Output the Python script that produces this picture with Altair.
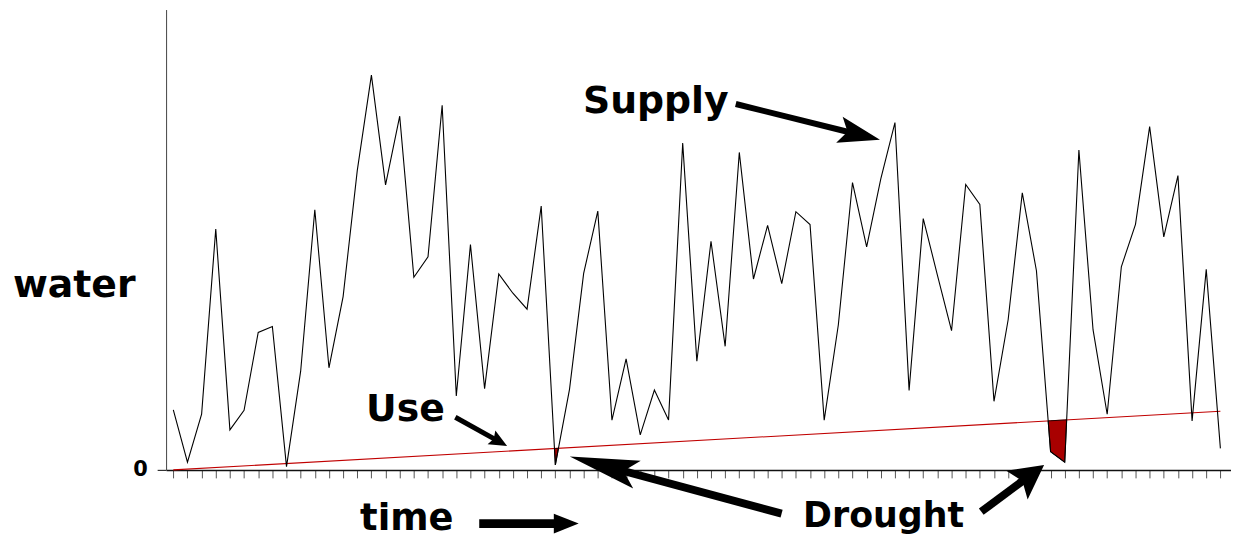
import altair as alt
import pandas as pd
import numpy as np

# ---------------- data ----------------
time_steps = list(range(75))
supply = [60.3, 7.7, 56, 242.3, 40.3, 60, 138.3, 144.3, 3.3, 99.3,
          261.7, 102.7, 174.3, 301, 397, 286.7, 355.7, 193.7, 214.3, 366.7,
          74.3, 226.7, 81.7, 197, 177.7, 161.7, 265.3, 5, 81, 197.7,
          260.3, 50, 111.7, 35.3, 80.3, 50.3, 328.7, 109.3, 230, 124.3,
          319.3, 192, 246, 187.3, 259.7, 246.7, 50, 146, 289, 224.3,
          292.7, 349.3, 80, 252.7, 196, 140, 287, 267, 69, 151,
          278.7, 200.3, 18.3, 7.7, 321.7, 141, 56, 204.3, 247, 345.3,
          234.3, 296, 49.3, 201.7, 21.7]
use_t = [0, 74]
use_v = [0, 59]
drought_steps = [[27], [62, 63]]

label_text = ["water", "Supply", "Use", "time", "Drought"]
label_t = [-7.0, 34.1, 16.4, 16.5, 50.2]
label_v = [174, 359, 49.3, -60.5, -57.3]
label_size = [38, 38, 38, 37, 35]

arrow_from_t = [39.75, 19.93, 21.62, 42.99, 57.1]
arrow_from_v = [368, 53, -54, -44, -42]
arrow_to_t = [49.94, 23.59, 28.65, 28.02, 61.54]
arrow_to_v = [332, 24, -54, 13.5, 5]
arrow_shaft = [6, 5, 9, 8, 8]
arrow_head_len = [42, 18, 25, 70, 34]
arrow_head_w = [27, 16, 20, 29, 36]
arrow_notch = [0.2, 0.15, 0.0, 0.2, 0.2]

X_DOMAIN = [-0.51, 74.75]
Y_DOMAIN = [0, 463]
W, H = 1071, 463
PX_X = W / (X_DOMAIN[1] - X_DOMAIN[0])
PX_Y = H / (Y_DOMAIN[1] - Y_DOMAIN[0])

# ---------------- tables ----------------
supply_df = pd.DataFrame({"t": time_steps, "v": supply})
use_df = pd.DataFrame({"t": use_t, "v": use_v})


def use_at(t):
    return float(np.interp(t, use_t, use_v))


rows = []
for g, steps in enumerate(drought_steps):
    i0, i1 = steps[0], steps[-1]
    da = supply[i0 - 1] - use_at(i0 - 1)
    db = supply[i0] - use_at(i0)
    tl = i0 - 1 + da / (da - db)
    da = supply[i1] - use_at(i1)
    db = supply[i1 + 1] - use_at(i1 + 1)
    tr = i1 + da / (da - db)
    rows.append({"g": g, "t": tl, "v": use_at(tl), "v2": use_at(tl)})
    for i in steps:
        rows.append({"g": g, "t": i, "v": supply[i], "v2": use_at(i)})
    rows.append({"g": g, "t": tr, "v": use_at(tr), "v2": use_at(tr)})
drought_df = pd.DataFrame(rows)

shaft_rows, head_rows = [], []
for a in range(len(arrow_from_t)):
    x0, y0 = arrow_from_t[a] * PX_X, arrow_from_v[a] * PX_Y
    x1, y1 = arrow_to_t[a] * PX_X, arrow_to_v[a] * PX_Y
    d = np.hypot(x1 - x0, y1 - y0)
    ux, uy = (x1 - x0) / d, (y1 - y0) / d
    L = arrow_head_len[a]
    r = L / 2.0
    n = arrow_notch[a]
    back = L * (1 - n) - 1.0
    sx, sy = x1 - ux * back, y1 - uy * back
    shaft_rows.append({"t": x0 / PX_X, "v": y0 / PX_Y, "t2": sx / PX_X,
                       "v2": sy / PX_Y, "w": arrow_shaft[a]})
    cx, cy = x1 - ux * r, y1 - uy * r
    hw = arrow_head_w[a] / 2.0 / r
    nx = -1 + 2 * n
    path = f"M1,0L-1,{-hw:.3f}L{nx:.3f},0L-1,{hw:.3f}Z"
    ang = float(np.degrees(np.arctan2(-uy, ux))) % 360
    head_rows.append({"t": cx / PX_X, "v": cy / PX_Y, "path": path,
                      "ang": ang, "sz": L * L})
shaft_df = pd.DataFrame(shaft_rows)
head_df = pd.DataFrame(head_rows)

label_df = pd.DataFrame({"text": label_text, "t": label_t, "v": label_v,
                         "fs": label_size})


def xenc():
    return alt.X("t:Q", scale=alt.Scale(domain=X_DOMAIN, nice=False, zero=False),
                 axis=alt.Axis(values=time_steps, labels=False, title=None, grid=False,
                               tickSize=8, tickColor="#555555", tickWidth=1,
                               domainColor="#111111", domainWidth=1.5))


def yenc():
    return alt.Y("v:Q", scale=alt.Scale(domain=Y_DOMAIN, nice=False, zero=False),
                 axis=alt.Axis(values=[0], title=None, grid=False, tickSize=9,
                               tickColor="#333333", tickWidth=1.2,
                               domainColor="#444444", domainWidth=1,
                               labelFont="DejaVu Sans", labelFontWeight="bold",
                               labelFontSize=21, labelColor="black",
                               labelPadding=10))


use_line = alt.Chart(use_df).mark_line(color="#c00000", strokeWidth=1.1).encode(
    x=xenc(), y=yenc())

drought_area = alt.Chart(drought_df).mark_area(
    color="#a80000", stroke="black", strokeWidth=0.8).encode(
    x=xenc(), y=yenc(), y2="v2:Q", detail="g:N")

supply_line = alt.Chart(supply_df).mark_line(color="black", strokeWidth=1.1).encode(
    x=xenc(), y=yenc())

shafts = alt.Chart(shaft_df).mark_rule(color="black", strokeCap="butt").encode(
    x=xenc(), y=yenc(), x2="t2:Q", y2="v2:Q",
    strokeWidth=alt.StrokeWidth("w:Q", scale=None, legend=None))

heads = alt.Chart(head_df).mark_point(
    filled=True, color="black", opacity=1, strokeWidth=0).encode(
    x=xenc(), y=yenc(),
    shape=alt.Shape("path:N", scale=None, legend=None),
    angle=alt.Angle("ang:Q", scale=None),
    size=alt.Size("sz:Q", scale=None, legend=None))

labels = alt.Chart(label_df).mark_text(
    font="DejaVu Sans", fontWeight="bold", color="black",
    align="center", baseline="alphabetic").encode(
    x=xenc(), y=yenc(), text="text:N",
    size=alt.Size("fs:Q", scale=None, legend=None))

chart = alt.layer(use_line, drought_area, supply_line, shafts, heads, labels).properties(
    width=W, height=H,
    autosize=alt.AutoSizeParams(type="none"),
    padding={"left": 159, "top": 0, "right": 0, "bottom": 80},
).configure_view(stroke=None)

chart.save("out.html", embed_options={"renderer": "svg", "actions": False})
